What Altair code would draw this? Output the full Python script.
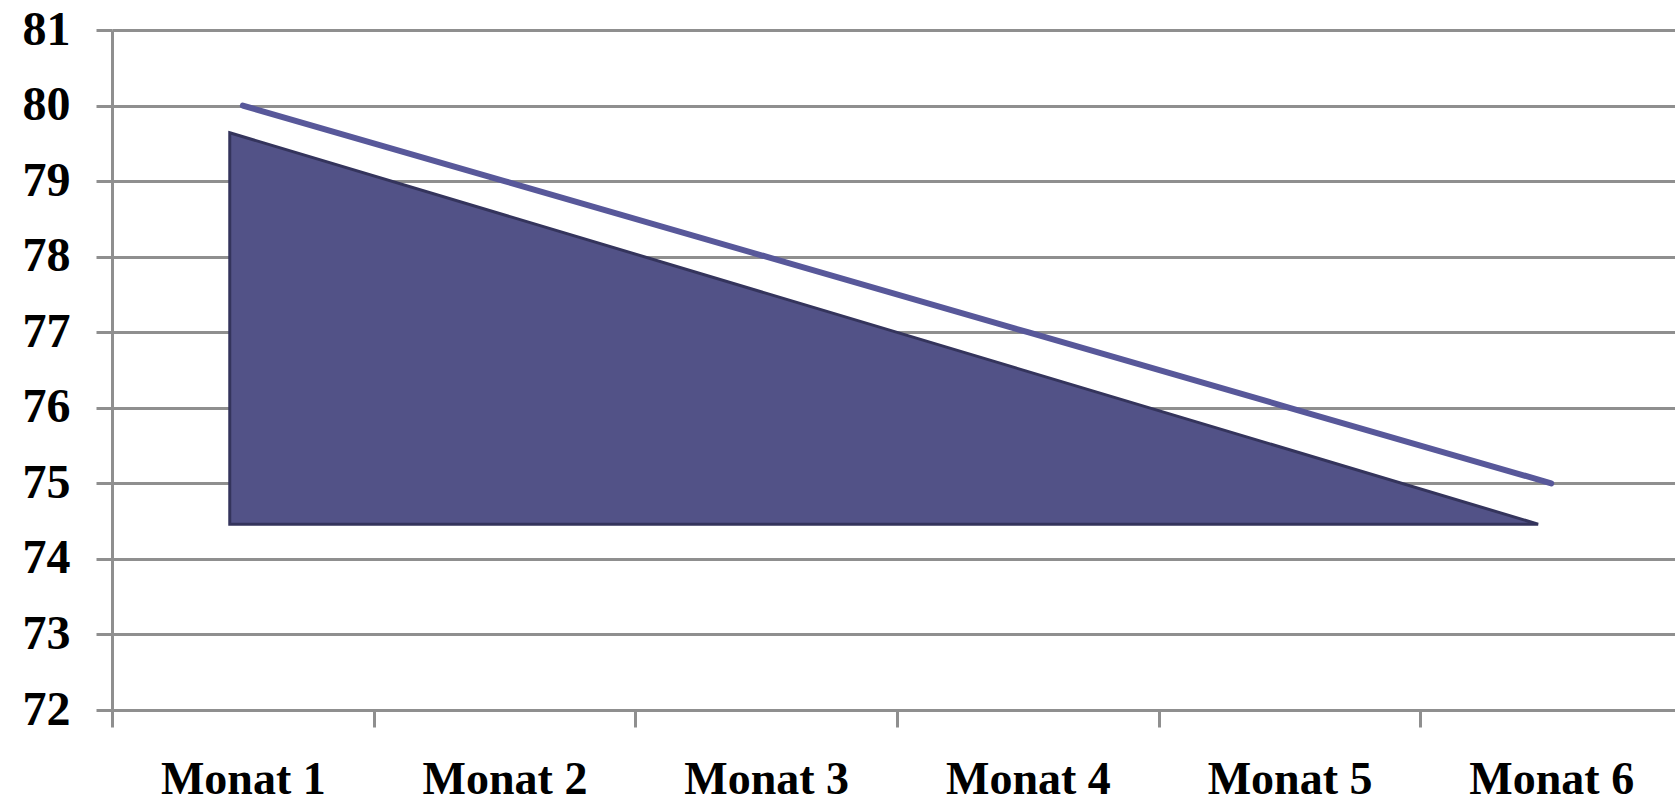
import json
import altair as alt
import pandas as pd

# ---- data ----
months = ["Monat 1", "Monat 2", "Monat 3", "Monat 4", "Monat 5", "Monat 6"]
month_pos = [1, 2, 3, 4, 5, 6]
line_values = [80, 79, 78, 77, 76, 75]

shape_x = [0.95, 5.95]
shape_top = [79.64, 74.46]
shape_base = [74.46, 74.46]

y_ticks = [72, 73, 74, 75, 76, 77, 78, 79, 80, 81]

# ---- layout / style ----
W, H = 1563, 680
x_domain = [0.5, 6.473]
band = W / (x_domain[1] - x_domain[0])
GRAY = "#8f8f8f"
FONT = "Liberation Serif"

line_df = pd.DataFrame({"x": month_pos, "y": line_values})
shape_df = pd.DataFrame({"x": shape_x, "y": shape_top, "y2": shape_base})

x_scale = alt.Scale(domain=x_domain, nice=False, zero=False)
y_scale = alt.Scale(domain=[72, 81], nice=False, zero=False)

label_expr = f"{json.dumps(months)}[datum.value - 1]"

x_axis = alt.Axis(
    values=month_pos,
    labelExpr=label_expr,
    tickOffset=-band / 2,
    labelOffset=band / 2,
    grid=False,
    tickSize=17,
    tickWidth=3,
    tickColor=GRAY,
    domainColor=GRAY,
    domainWidth=3,
    labelFont=FONT,
    labelFontWeight="bold",
    labelFontSize=46,
    labelColor="black",
    labelPadding=30,
    title=None,
)

y_axis = alt.Axis(
    values=y_ticks,
    format="d",
    grid=True,
    gridColor=GRAY,
    gridWidth=3,
    gridOpacity=1,
    tickSize=16,
    tickWidth=3,
    tickColor=GRAY,
    domainColor=GRAY,
    domainWidth=3,
    labelFont=FONT,
    labelFontWeight="bold",
    labelFontSize=48,
    labelColor="black",
    labelPadding=26,
    title=None,
)

shape = alt.Chart(shape_df).mark_area(
    color="#525287", stroke="#34345c", strokeWidth=3, opacity=1, line=False
).encode(
    x=alt.X("x:Q", scale=x_scale, axis=x_axis),
    y=alt.Y("y:Q", scale=y_scale, axis=y_axis),
    y2="y2:Q",
)

line = alt.Chart(line_df).mark_line(
    color="#58589a", strokeWidth=6, strokeCap="round"
).encode(
    x=alt.X("x:Q", scale=x_scale),
    y=alt.Y("y:Q", scale=y_scale),
)

chart = (
    alt.layer(shape, line)
    .properties(
        width=W,
        height=H,
        autosize=alt.AutoSizeParams(type="none"),
        padding={"left": 112, "top": 30, "right": 0, "bottom": 99},
        background="white",
    )
    .configure_view(stroke=None)
)

chart.save("out.html", embed_options={"renderer": "svg", "actions": False})
